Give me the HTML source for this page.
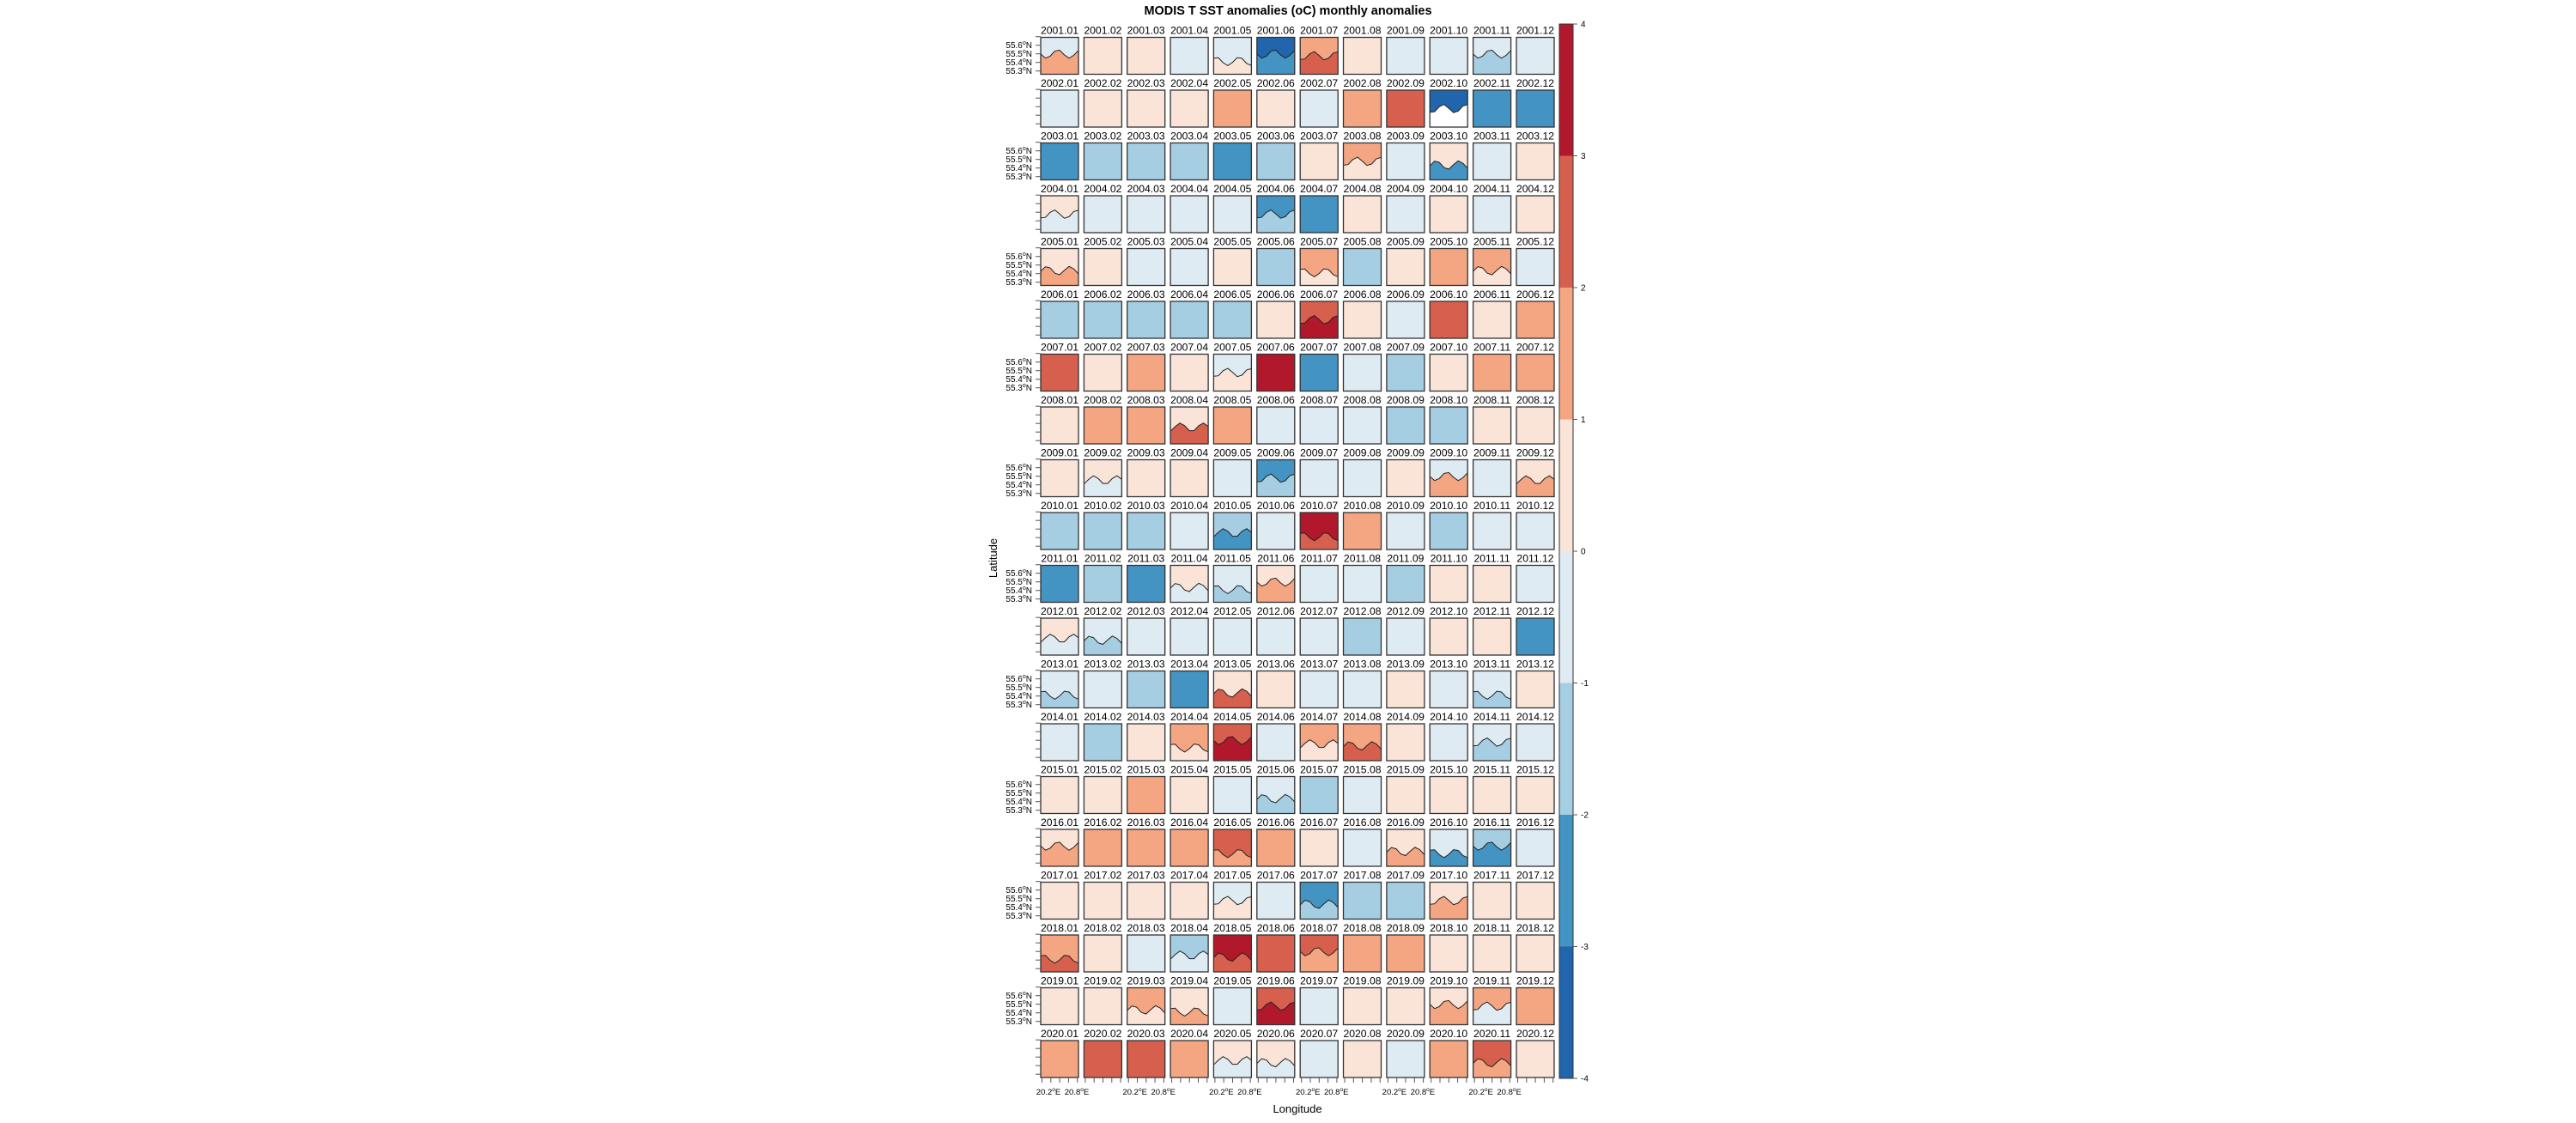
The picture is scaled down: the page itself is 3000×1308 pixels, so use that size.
<!DOCTYPE html>
<html><head><meta charset="utf-8"><style>
html,body{margin:0;padding:0;background:#fff;}
svg{display:block;font-family:"Liberation Sans",sans-serif;}
</style></head><body>
<svg id="s" width="3000" height="1308" xmlns="http://www.w3.org/2000/svg">
<rect width="3000" height="1308" fill="#fff"/>
<text x="1500" y="17" text-anchor="middle" font-size="15" font-weight="bold" textLength="335" lengthAdjust="spacingAndGlyphs">MODIS T SST anomalies (oC) monthly anomalies</text>
<text x="1511" y="1296" text-anchor="middle" font-size="13">Longitude</text>
<text transform="translate(1161,650) rotate(-90)" text-anchor="middle" font-size="13">Latitude</text>
<g id="g"></g>
</svg>
<script>
(function(){
var C={D:"#b2182b",R:"#d6604d",S:"#f4a582",P:"#fae3d7",L:"#deebf2",B:"#a6cee3",M:"#4393c3",N:"#2166ac",W:"#ffffff"};
var rows=[
"LS P P L LP NM SR P L L LB L",
"L P P P S P L S R NW M M",
"M B B B M B P SP L PM L P",
"PL L L L L MB M P L P L P",
"PS P L L P B SP B P S SP L",
"B B B B B P RD P L R P S",
"R P S P LP D M L B P S S",
"P S S PR S L L L B B P P",
"P PL P P L MB L L P LS L PS",
"B B B L BM L DR S L B L L",
"M B M PL LB PS L L B P P L",
"PL LB L L L L L B L P P M",
"LB L B M PR P L L P L LB P",
"L B P SP RD L SP SR P L LB L",
"P P S P L LB B L P P P P",
"PS S S S RS S P L PS LM BM L",
"P P P P LP L MB B B PS P P",
"SR P L BL DR R RS S S P P P",
"P P SP PS L RD L P P PS SL S",
"S R R S PL PL L P L S RS P"];
var h='';
var X0=1212,DX=50.36,Y0=43.5,DY=61.5,W=44,H=43;
function f(v){return v.toFixed(1);}
for(var r=0;r<20;r++){
 var cells=rows[r].split(' ');
 var y=Y0+r*DY;
 for(var c=0;c<12;c++){
  var x=X0+c*DX, code=cells[c];
  h+='<rect x="'+f(x)+'" y="'+f(y)+'" width="'+W+'" height="'+H+'" fill="'+C[code[0]]+'"/>';
  if(code.length>1){
   var s=(r*12+c)%5, pts=[];
   var base=y+H*(0.45+0.05*s);
   pts.push(f(x)+','+f(y+H));
   for(var i=0;i<=8;i++){var px=x+W*i/8;var py=base+Math.sin(i*1.3+s)*5;pts.push(f(px)+','+f(py));}
   pts.push(f(x+W)+','+f(y+H));
   h+='<polygon points="'+pts.join(' ')+'" fill="'+C[code[1]]+'"/>';
   h+='<polyline points="'+pts.slice(1,-1).join(' ')+'" fill="none" stroke="#222" stroke-width="1"/>';
  }
  h+='<rect x="'+f(x)+'" y="'+f(y)+'" width="'+W+'" height="'+H+'" fill="none" stroke="#333" stroke-width="1.3"/>';
  h+='<text x="'+f(x+W/2)+'" y="'+f(y-4)+'" text-anchor="middle" font-size="12.2">'+(2001+r)+'.'+(c<9?'0':'')+(c+1)+'</text>';
 }
 for(var k=0;k<5;k++){var ty=y-0.8+k*10;h+='<line x1="1206" x2="1212" y1="'+f(ty)+'" y2="'+f(ty)+'" stroke="#555" stroke-width="1"/>';}
 if(r%2==0){var lab=["55.6","55.5","55.4","55.3"];for(var k=0;k<4;k++){var ty=y+9.2+k*10;h+='<text x="1202" y="'+f(ty+3.5)+'" text-anchor="end" font-size="10">'+lab[k]+'<tspan dy="-4" font-size="7">o</tspan><tspan dy="4">N</tspan></text>';}}
}
var yb=Y0+19*DY+H;
for(var c=0;c<12;c++){var x=X0+c*DX;for(var k=0;k<5;k++){var tx=x+1.5+k*10.3;h+='<line x1="'+f(tx)+'" x2="'+f(tx)+'" y1="'+f(yb)+'" y2="'+f(yb+6)+'" stroke="#555" stroke-width="1"/>';}
 if(c%2==0){h+='<text x="'+f(x+9)+'" y="1275" text-anchor="middle" font-size="9.5">20.2<tspan dy="-4" font-size="6.5">o</tspan><tspan dy="4">E</tspan></text>';
 h+='<text x="'+f(x+42)+'" y="1275" text-anchor="middle" font-size="9.5">20.8<tspan dy="-4" font-size="6.5">o</tspan><tspan dy="4">E</tspan></text>';}
}
var cb=["D","R","S","P","L","B","M","N"],cbTop=28,u=153.5;
for(var i=0;i<8;i++){h+='<rect x="1816" y="'+f(cbTop+i*u)+'" width="16" height="'+f(u+0.5)+'" fill="'+C[cb[i]]+'"/>';}
h+='<rect x="1816" y="'+cbTop+'" width="16" height="'+f(8*u)+'" fill="none" stroke="#333" stroke-width="1"/>';
for(var i=0;i<=8;i++){var ty=cbTop+i*u;h+='<line x1="1832" x2="1837" y1="'+f(ty)+'" y2="'+f(ty)+'" stroke="#555"/>';h+='<text x="1841" y="'+f(ty+3.5)+'" font-size="10">'+(4-i)+'</text>';}
document.getElementById('g').innerHTML=h;
})();
</script>
</body></html>
